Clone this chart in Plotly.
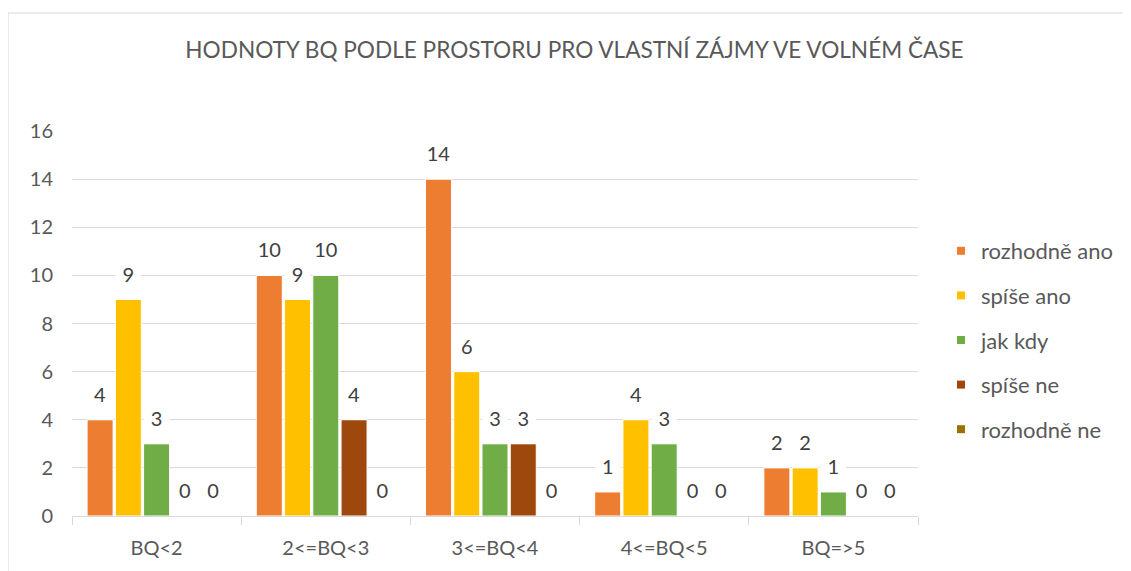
import plotly.graph_objects as go

categories = ["BQ<2", "2<=BQ<3", "3<=BQ<4", "4<=BQ<5", "BQ=>5"]
series_names = ["rozhodně ano", "spíše ano", "jak kdy", "spíše ne", "rozhodně ne"]
rozhodne_ano = [4, 10, 14, 1, 2]
spise_ano = [9, 9, 6, 4, 2]
jak_kdy = [3, 10, 3, 3, 1]
spise_ne = [0, 4, 3, 0, 0]
rozhodne_ne = [0, 0, 0, 0, 0]
y_ticks = [0, 2, 4, 6, 8, 10, 12, 14, 16]
title_text = "HODNOTY BQ PODLE PROSTORU PRO VLASTNÍ ZÁJMY VE VOLNÉM ČASE"

series_values = [rozhodne_ano, spise_ano, jak_kdy, spise_ne, rozhodne_ne]
colors = ["#ED7D31", "#FFC000", "#70AD47", "#9E480E", "#997300"]

FONT = "Lato"
TXT = "#595959"
LABEL_BOX = 1.7  # height (axis units) of the white label box above each bar

fig = go.Figure()
for i, (name, vals, col) in enumerate(zip(series_names, series_values, colors)):
    fig.add_trace(go.Bar(
        x=categories, y=vals, name=name, legendgroup=name, offsetgroup=str(i),
        showlegend=False,
        marker=dict(color=col, line=dict(color="white", width=1)),
        hoverinfo="x+y+name",
    ))
    # white label box sitting on top of each bar, holding the value label
    fig.add_trace(go.Bar(
        x=categories, y=[LABEL_BOX] * len(vals), base=vals, offsetgroup=str(i),
        legendgroup=name, showlegend=False, hoverinfo="skip",
        marker=dict(color="white", line=dict(width=0)),
        text=[str(v) for v in vals], textposition="inside", insidetextanchor="end",
        constraintext="none", textangle=0, cliponaxis=False,
        insidetextfont=dict(family=FONT, size=20, color="#404040"),
    ))
    # legend entry with a small square swatch
    fig.add_trace(go.Scatter(
        x=[None], y=[None], mode="markers", name=name, legendgroup=name,
        marker=dict(symbol="square", size=8, color=col),
    ))

W, H = 1131, 571
OFF = 8  # page offset of the figure div
L, R, T, B = 72 - OFF, 1131 - 918 + OFF, 131 - OFF, 571 - 516 + OFF
pw, ph = W - L - R, H - T - B

def px_x(p):
    return (p - OFF - L) / pw

def px_y(p):
    return (H - B - (p - OFF)) / ph

fig.update_layout(
    width=W, height=H,
    margin=dict(l=L, r=R, t=T, b=B),
    paper_bgcolor="white", plot_bgcolor="white",
    barmode="group", bargap=0.165, bargroupgap=0.08,
    font=dict(family=FONT, color=TXT),
    title=dict(text=title_text, x=(574.5 - OFF) / W, xref="container", xanchor="center",
               y=1 - (50 - OFF) / H, yanchor="middle", yref="container",
               font=dict(family=FONT, size=22.6, color=TXT)),
    legend=dict(x=px_x(941), xanchor="left", y=px_y(340), yanchor="middle",
                font=dict(family=FONT, size=22, color=TXT),
                tracegroupgap=13, itemwidth=30, bgcolor="rgba(0,0,0,0)"),
    xaxis=dict(type="category", showline=True, linecolor="#d9d9d9", linewidth=1,
               ticks="outside", tickson="boundaries", ticklen=8, tickcolor="#d9d9d9",
               showgrid=False, tickfont=dict(family=FONT, size=20, color=TXT),
               ticklabelstandoff=14, layer="above traces"),
    yaxis=dict(range=[0, 16], tickvals=y_ticks, showgrid=True, gridcolor="#d9d9d9",
               gridwidth=1, zeroline=False, showline=False,
               tickfont=dict(family=FONT, size=20, color=TXT), ticklabelstandoff=18),
    shapes=[dict(type="rect", xref="paper", yref="paper",
                 x0=px_x(8), x1=px_x(1130), y0=px_y(580), y1=px_y(13),
                 line=dict(color="#d9d9d9", width=1), layer="below")],
)

fig.write_html("out.html")
